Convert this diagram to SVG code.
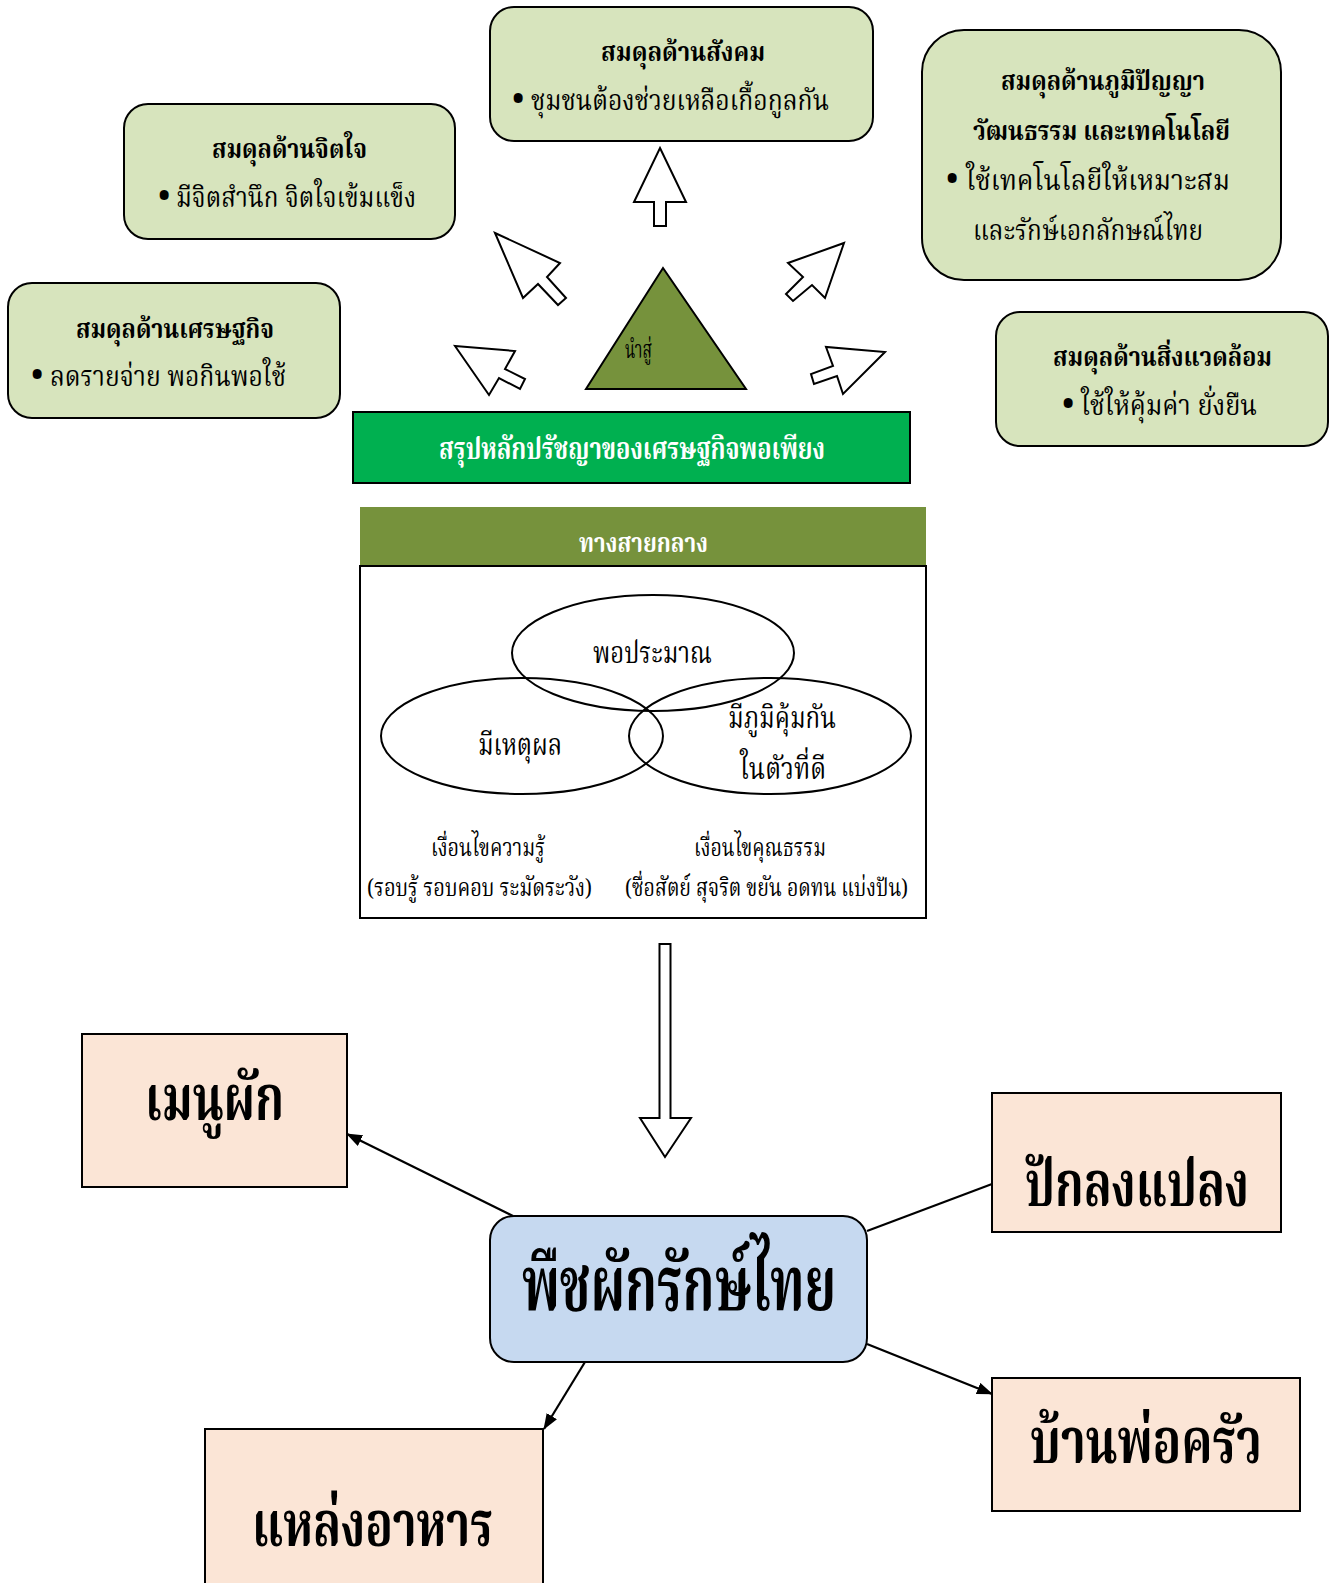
<svg xmlns="http://www.w3.org/2000/svg" width="1340" height="1583" viewBox="0 0 1340 1583">
<style>
text{font-family:'Noto Serif Thai','Noto Sans Thai','Loma','Norasi','Liberation Serif',serif;fill:#000}
.b{font-weight:bold}
.w{fill:#fff}
.bu{font-size:34px}
.gbox{fill:#D7E4BD;stroke:#000;stroke-width:2}
.pbox{fill:#FBE5D6;stroke:#000;stroke-width:2}
.blk{fill:#fff;stroke:#000;stroke-width:2;stroke-linejoin:miter}
.con{stroke:#000;stroke-width:2.2;fill:none}
.t26{font-size:26px}.t28{font-size:28px}.t24{font-size:24px}.t30{font-size:30px}.t62{font-size:62px}.t64{font-size:64px}.t76{font-size:76px}
</style>
<defs>
<marker id="ah" markerUnits="userSpaceOnUse" markerWidth="16" markerHeight="12" refX="15" refY="6" orient="auto">
<path d="M0,0 L16,6 L0,12 Z" fill="#000"/>
</marker>
</defs>
<rect width="1340" height="1583" fill="#fff"/>

<g id="connectors">
<path class="blk" d="M660,148 L686,202 L666,202 L666,226 L654,226 L654,202 L634,202 Z"/>
<path class="blk" d="M495,233 L560,263 L547,277 L566,298 L558,305 L538,284 L523,298 Z"/>
<path class="blk" d="M844,243 L825,298 L812,285 L793,301 L786,294 L803,277 L788,263 Z"/>
<path class="blk" d="M455,346 L515,351 L505,369 L525,379 L520,389 L499,378 L489,395 Z"/>
<path class="blk" d="M885,352 L843,394 L837,376 L814,384 L811,374 L833,366 L826,347 Z"/>
<path class="blk" d="M659.5,944 L670.5,944 L670.5,1118 L691,1118 L665,1157 L640,1118 L659.5,1118 Z"/>
<line class="con" x1="513" y1="1216" x2="347" y2="1134" marker-end="url(#ah)"/>
<line class="con" x1="867" y1="1231" x2="992" y2="1184"/>
<line class="con" x1="867" y1="1344" x2="992" y2="1394" marker-end="url(#ah)"/>
<line class="con" x1="585" y1="1362" x2="544" y2="1429" marker-end="url(#ah)"/>
</g>

<g id="mind">
<rect class="gbox" x="124" y="104" width="331" height="135" rx="24"/>
<text class="b t26" x="212" y="158" textLength="155" lengthAdjust="spacingAndGlyphs">สมดุลด้านจิตใจ</text>
<text class="t28" x="158" y="207"><tspan class="bu">•</tspan><tspan x="176" textLength="240" lengthAdjust="spacingAndGlyphs">มีจิตสำนึก จิตใจเข้มแข็ง</tspan></text>
</g>

<g id="social">
<rect class="gbox" x="490" y="7" width="383" height="134" rx="24"/>
<text class="b t26" x="601" y="61" textLength="164" lengthAdjust="spacingAndGlyphs">สมดุลด้านสังคม</text>
<text class="t28" x="512" y="110"><tspan class="bu">•</tspan><tspan x="531" textLength="298" lengthAdjust="spacingAndGlyphs">ชุมชนต้องช่วยเหลือเกื้อกูลกัน</tspan></text>
</g>

<g id="wisdom">
<rect class="gbox" x="922" y="30" width="359" height="250" rx="42"/>
<text class="b t26" x="1001" y="90" textLength="204" lengthAdjust="spacingAndGlyphs">สมดุลด้านภูมิปัญญา</text>
<text class="b t26" x="973" y="140" textLength="257" lengthAdjust="spacingAndGlyphs">วัฒนธรรม และเทคโนโลยี</text>
<text class="t28" x="946" y="190"><tspan class="bu">•</tspan><tspan x="966" textLength="264" lengthAdjust="spacingAndGlyphs">ใช้เทคโนโลยีให้เหมาะสม</tspan></text>
<text class="t28" x="973" y="240" textLength="230" lengthAdjust="spacingAndGlyphs">และรักษ์เอกลักษณ์ไทย</text>
</g>

<g id="environment">
<rect class="gbox" x="996" y="312" width="332" height="134" rx="24"/>
<text class="b t26" x="1053" y="366" textLength="219" lengthAdjust="spacingAndGlyphs">สมดุลด้านสิ่งแวดล้อม</text>
<text class="t28" x="1062" y="415"><tspan class="bu">•</tspan><tspan x="1081" textLength="176" lengthAdjust="spacingAndGlyphs">ใช้ให้คุ้มค่า ยั่งยืน</tspan></text>
</g>

<g id="economic">
<rect class="gbox" x="8" y="283" width="332" height="135" rx="24"/>
<text class="b t26" x="76" y="338" textLength="198" lengthAdjust="spacingAndGlyphs">สมดุลด้านเศรษฐกิจ</text>
<text class="t28" x="31" y="386"><tspan class="bu">•</tspan><tspan x="50" textLength="236" lengthAdjust="spacingAndGlyphs">ลดรายจ่าย พอกินพอใช้</tspan></text>
</g>

<g id="lead-to">
<path d="M663,268 L746,389 L586,389 Z" fill="#76923C" stroke="#000" stroke-width="2"/>
<text class="t24" x="625" y="358" textLength="27" lengthAdjust="spacingAndGlyphs">นำสู่</text>
</g>

<g id="summary">
<rect x="353" y="412" width="557" height="71" fill="#00B050" stroke="#000" stroke-width="2"/>
<text class="b t30 w" x="439" y="459" textLength="386" lengthAdjust="spacingAndGlyphs">สรุปหลักปรัชญาของเศรษฐกิจพอเพียง</text>
</g>

<g id="middle-way">
<rect x="360" y="507" width="566" height="59" fill="#76923C"/>
<rect x="360" y="566" width="566" height="352" fill="#fff" stroke="#000" stroke-width="2"/>
<text class="b t26 w" x="579" y="552" textLength="129" lengthAdjust="spacingAndGlyphs">ทางสายกลาง</text>
<ellipse cx="653" cy="653" rx="141" ry="58" fill="none" stroke="#000" stroke-width="2"/>
<ellipse cx="522" cy="736" rx="141" ry="58" fill="none" stroke="#000" stroke-width="2"/>
<ellipse cx="770" cy="736" rx="141" ry="58" fill="none" stroke="#000" stroke-width="2"/>
<text class="t30" x="593" y="663" textLength="119" lengthAdjust="spacingAndGlyphs">พอประมาณ</text>
<text class="t30" x="478" y="755" textLength="84" lengthAdjust="spacingAndGlyphs">มีเหตุผล</text>
<text class="t30" x="728" y="728" textLength="108" lengthAdjust="spacingAndGlyphs">มีภูมิคุ้มกัน</text>
<text class="t30" x="740" y="779" textLength="86" lengthAdjust="spacingAndGlyphs">ในตัวที่ดี</text>
<text class="t24" x="431" y="856" textLength="114" lengthAdjust="spacingAndGlyphs">เงื่อนไขความรู้</text>
<text class="t24" x="367" y="896" textLength="225" lengthAdjust="spacingAndGlyphs">(รอบรู้ รอบคอบ ระมัดระวัง)</text>
<text class="t24" x="694" y="856" textLength="132" lengthAdjust="spacingAndGlyphs">เงื่อนไขคุณธรรม</text>
<text class="t24" x="625" y="896" textLength="283" lengthAdjust="spacingAndGlyphs">(ซื่อสัตย์ สุจริต ขยัน อดทน แบ่งปัน)</text>
</g>

<g id="menu">
<rect class="pbox" x="82" y="1034" width="265" height="153"/>
<text class="b t64" x="145" y="1120" textLength="139" lengthAdjust="spacingAndGlyphs">เมนูผัก</text>
</g>

<g id="planting">
<rect class="pbox" x="992" y="1093" width="289" height="139"/>
<text class="b t64" x="1025" y="1206" textLength="224" lengthAdjust="spacingAndGlyphs">ปักลงแปลง</text>
</g>

<g id="center">
<rect x="490" y="1216" width="377" height="146" rx="24" fill="#C6D9F0" stroke="#000" stroke-width="2"/>
<text class="b t76" x="522" y="1310" textLength="314" lengthAdjust="spacingAndGlyphs">พืชผักรักษ์ไทย</text>
</g>

<g id="chef">
<rect class="pbox" x="992" y="1378" width="308" height="133"/>
<text class="b t62" x="1030" y="1463" textLength="232" lengthAdjust="spacingAndGlyphs">บ้านพ่อครัว</text>
</g>

<g id="food-source">
<rect class="pbox" x="205" y="1429" width="338" height="180"/>
<text class="b t64" x="252" y="1546" textLength="241" lengthAdjust="spacingAndGlyphs">แหล่งอาหาร</text>
</g>
</svg>
